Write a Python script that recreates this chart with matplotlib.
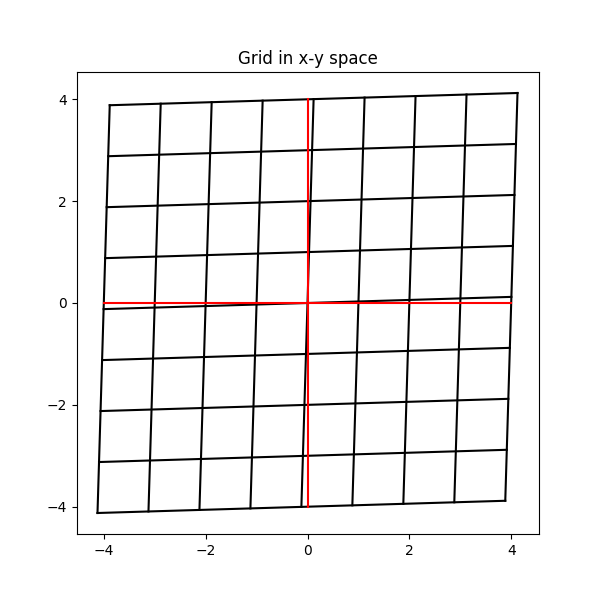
import numpy as np
import matplotlib.pyplot as plt

# grid points in the original space
grid_vals = np.arange(-4, 5, 1)
# transform matrix applied to the grid
A = np.array([[1.0, 0.03],
              [0.03, 1.0]])

axis_lo, axis_hi = -4, 4

fig = plt.figure(figsize=(6, 6), dpi=100)
ax = fig.add_subplot(111)

lo, hi = grid_vals[0], grid_vals[-1]
for v in grid_vals:
    # horizontal line y = v
    pts = A @ np.array([[lo, hi], [v, v]])
    ax.plot(pts[0], pts[1], color='black')
    # vertical line x = v
    pts = A @ np.array([[v, v], [lo, hi]])
    ax.plot(pts[0], pts[1], color='black')

ax.plot([axis_lo, axis_hi], [0, 0], color='red')
ax.plot([0, 0], [axis_lo, axis_hi], color='red')

ax.set_aspect('equal')
ax.set_title('Grid in x-y space')
plt.savefig('out.png')
